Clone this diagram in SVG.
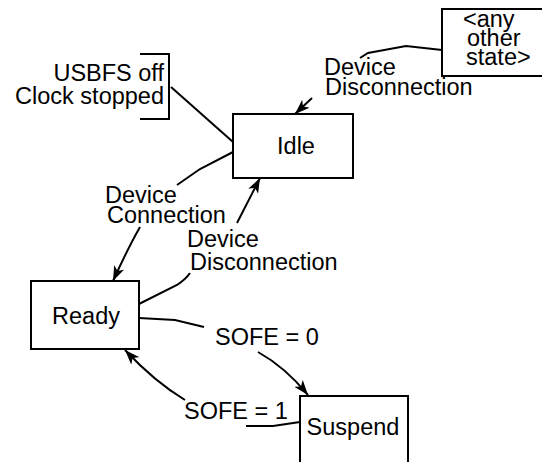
<svg xmlns="http://www.w3.org/2000/svg" width="542" height="462" viewBox="0 0 542 462">
  <defs>
    <marker id="arrow" viewBox="0 0 15 11" refX="15" refY="5.5" markerWidth="15" markerHeight="11" markerUnits="userSpaceOnUse" orient="auto">
      <path d="M0,0 L15,5.5 L0,11 L4,5.5 z" fill="#000"/>
    </marker>
  </defs>
  <style>
    text { font-family: "Liberation Sans", Arial, sans-serif; font-size: 23.5px; fill: #000; }
    .box { fill: #fff; stroke: #000; stroke-width: 2; }
    .line { fill: none; stroke: #000; stroke-width: 2; }
    .arr { fill: none; stroke: #000; stroke-width: 2; marker-end: url(#arrow); }
  </style>
  <rect x="0" y="0" width="542" height="462" fill="#fff"/>

  <g id="connectors">
    <polyline class="line" points="442,50 406,46 368,53 360,58"/>
    <line class="arr" x1="312" y1="98" x2="295" y2="114"/>
    <line class="line" x1="171" y1="87" x2="233" y2="142"/>
    <polyline class="line" points="233,152 200,169 177,185"/>
    <path class="arr" d="M140,227 Q128,248 113,281"/>
    <path class="line" d="M139,304 L177,285 Q186,279 190,273"/>
    <line class="arr" x1="237" y1="223" x2="260" y2="178"/>
    <polyline class="line" points="139,318 175,320 204,327"/>
    <path class="arr" d="M258,352 Q285,367 308,395"/>
    <polyline class="line" points="300,422 273,426 246,426"/>
    <path class="arr" d="M185,400 Q155,382 125,350"/>
  </g>

  <g id="note-usbfs">
    <path class="line" d="M140,54 H169 V119 H140"/>
    <text x="164" y="81" text-anchor="end">USBFS off</text>
    <text x="164" y="104" text-anchor="end">Clock stopped</text>
  </g>

  <g id="node-other">
    <rect class="box" x="442" y="9" width="110" height="67"/>
    <text x="463" y="27">&lt;any</text>
    <text x="467" y="46">other</text>
    <text x="466" y="65">state&gt;</text>
  </g>

  <g id="node-idle">
    <rect class="box" x="233" y="114" width="120" height="64"/>
    <text x="296" y="154" text-anchor="middle">Idle</text>
  </g>

  <g id="node-ready">
    <rect class="box" x="31" y="281" width="108" height="68"/>
    <text x="86" y="324" text-anchor="middle">Ready</text>
  </g>

  <g id="node-suspend">
    <rect class="box" x="300" y="396" width="108" height="80"/>
    <text x="353" y="435" text-anchor="middle">Suspend</text>
  </g>

  <g id="labels">
    <text x="324" y="75">Device</text>
    <text x="325" y="95">Disconnection</text>
    <text x="105" y="203">Device</text>
    <text x="107" y="223">Connection</text>
    <text x="187" y="247">Device</text>
    <text x="190" y="270">Disconnection</text>
    <text x="215" y="345">SOFE = 0</text>
    <text x="184" y="419">SOFE = 1</text>
  </g>
</svg>
